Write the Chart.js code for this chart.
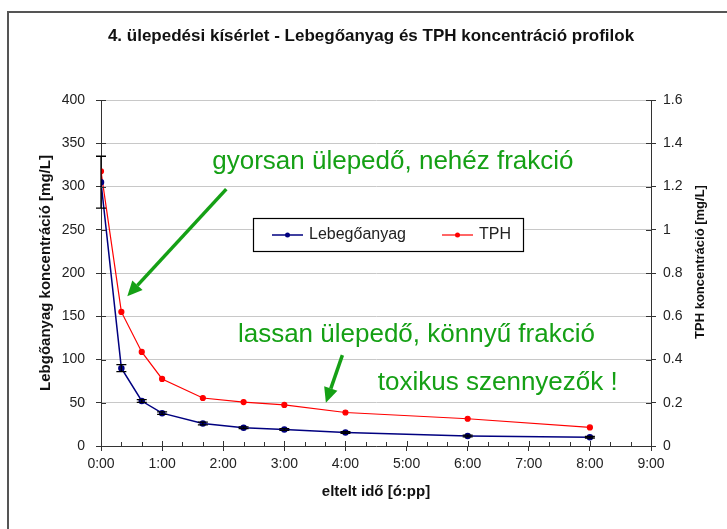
<!DOCTYPE html>
<html lang="hu">
<head>
<meta charset="utf-8">
<title>4. ülepedési kísérlet</title>
<script src="https://cdn.jsdelivr.net/npm/chart.js@4.4.1/dist/chart.umd.min.js"></script>
<style>
  html, body { margin: 0; padding: 0; background: #fff; }
  #grafikon { display: block; }
</style>
</head>
<body>
<canvas id="grafikon" width="727" height="529"></canvas>
<script>
// mintavételi időpontok [ó:pp]
var idopontok = ["0:00", "0:20", "0:40", "1:00", "1:40", "2:20", "3:00", "4:00", "6:00", "8:00"];
// lebegőanyag koncentráció [mg/L] és a mérések szórása
var lebegoanyag = [305, 90, 52, 38, 26, 21, 19, 15.5, 11.5, 10];
var lebegoanyagHiba = [30, 4, 1.5, 1.5, 1.5, 1, 1, 1, 1, 1];
// TPH koncentráció [mg/L]
var tph = [1.27, 0.62, 0.435, 0.31, 0.222, 0.203, 0.19, 0.155, 0.126, 0.086];

var xFeliratok = ["0:00", "1:00", "2:00", "3:00", "4:00", "5:00", "6:00", "7:00", "8:00", "9:00"];
var jobbFeliratok = ["0", "0.2", "0.4", "0.6", "0.8", "1", "1.2", "1.4", "1.6"];

var cim = "4. ülepedési kísérlet - Lebegőanyag és TPH koncentráció profilok";

// zöld megjegyzések (x: óra, y: bal tengely mg/L)
var megjegyzesek = [
  { szoveg: "gyorsan ülepedő, nehéz frakció", x: 1.82, y: 328 },
  { szoveg: "lassan ülepedő, könnyű frakció", x: 2.24, y: 128 },
  { szoveg: "toxikus szennyezők !", x: 4.53, y: 73 }
];
var nyilak = [
  { x1: 2.05, y1: 297, x2: 0.43, y2: 173 },
  { x1: 3.95, y1: 105, x2: 3.68, y2: 50 }
];

function oraba(s) {
  var r = s.split(":");
  return Number(r[0]) + Number(r[1]) / 60;
}

var betu = "'Liberation Sans', Arial, sans-serif";
var zold = "#15a015";

var diszites = {
  id: "diszites",
  beforeDraw: function (chart) {
    var ctx = chart.ctx;
    ctx.save();
    ctx.fillStyle = "#fff";
    ctx.fillRect(0, 0, chart.width, chart.height);
    ctx.strokeStyle = "#555";
    ctx.lineWidth = 2;
    ctx.strokeRect(8, 12, 760, 600);
    ctx.restore();
  },
  afterDatasetsDraw: function (chart) {
    // hibasávok a lebegőanyag pontjain
    var ctx = chart.ctx;
    var meta = chart.getDatasetMeta(0);
    var y = chart.scales.y;
    ctx.save();
    ctx.strokeStyle = "#000";
    ctx.lineWidth = 1.3;
    meta.data.forEach(function (pont, i) {
      var fent = y.getPixelForValue(lebegoanyag[i] + lebegoanyagHiba[i]);
      var lent = y.getPixelForValue(lebegoanyag[i] - lebegoanyagHiba[i]);
      ctx.beginPath();
      ctx.moveTo(pont.x, fent);
      ctx.lineTo(pont.x, lent);
      ctx.moveTo(pont.x - 5, fent);
      ctx.lineTo(pont.x + 5, fent);
      ctx.moveTo(pont.x - 5, lent);
      ctx.lineTo(pont.x + 5, lent);
      ctx.stroke();
    });
    ctx.restore();
  },
  afterDraw: function (chart) {
    var ctx = chart.ctx;
    var xs = chart.scales.x, ys = chart.scales.y, y2 = chart.scales.y2;
    var ter = chart.chartArea;
    ctx.save();

    // belső osztásjelek
    ctx.strokeStyle = "#333";
    ctx.lineWidth = 1;
    ctx.beginPath();
    ys.ticks.forEach(function (t) {
      var p = Math.round(ys.getPixelForValue(t.value)) + 0.5;
      ctx.moveTo(ter.left, p); ctx.lineTo(ter.left + 5, p);
    });
    y2.ticks.forEach(function (t) {
      var p = Math.round(y2.getPixelForValue(t.value)) + 0.5;
      ctx.moveTo(ter.right - 5, p); ctx.lineTo(ter.right, p);
    });
    for (var k = 0; k <= 27; k++) {
      var px = Math.round(xs.getPixelForValue(k / 3)) + 0.5;
      ctx.moveTo(px, ter.bottom); ctx.lineTo(px, ter.bottom - (k % 3 == 0 ? 5 : 4));
    }
    ctx.stroke();

    // cím
    ctx.fillStyle = "#111";
    ctx.font = "bold 17px " + betu;
    ctx.textAlign = "center";
    ctx.textBaseline = "middle";
    ctx.fillText(cim, 371, 36);

    // jobb tengely címe
    ctx.save();
    ctx.translate(700, 262);
    ctx.rotate(-Math.PI / 2);
    ctx.font = "bold 13px " + betu;
    ctx.fillText("TPH koncentráció [mg/L]", 0, 0);
    ctx.restore();

    // jelmagyarázat
    ctx.fillStyle = "#fff";
    ctx.fillRect(253, 218, 270, 33);
    ctx.strokeStyle = "#000";
    ctx.lineWidth = 1.2;
    ctx.strokeRect(253.5, 218.5, 270, 33);
    var helyek = [272, 442];
    chart.data.datasets.forEach(function (ds, i) {
      var x0 = helyek[i], yk = 235;
      ctx.strokeStyle = ds.borderColor;
      ctx.lineWidth = ds.borderWidth;
      ctx.beginPath();
      ctx.moveTo(x0, yk); ctx.lineTo(x0 + 31, yk);
      ctx.stroke();
      ctx.fillStyle = ds.borderColor;
      ctx.beginPath();
      ctx.arc(x0 + 15.5, yk, 2.5, 0, 2 * Math.PI);
      ctx.fill();
      ctx.fillStyle = "#222";
      ctx.font = "16px " + betu;
      ctx.textAlign = "left";
      ctx.fillText(ds.label, x0 + 37, yk);
    });

    // megjegyzések
    ctx.fillStyle = zold;
    ctx.font = "26px " + betu;
    ctx.textAlign = "left";
    ctx.textBaseline = "middle";
    megjegyzesek.forEach(function (m) {
      ctx.fillText(m.szoveg, xs.getPixelForValue(m.x), ys.getPixelForValue(m.y));
    });
    ctx.strokeStyle = zold;
    nyilak.forEach(function (n) {
      var ax = xs.getPixelForValue(n.x1), ay = ys.getPixelForValue(n.y1);
      var bx = xs.getPixelForValue(n.x2), by = ys.getPixelForValue(n.y2);
      var szog = Math.atan2(by - ay, bx - ax);
      var hossz = 15, fel = 7;
      var cx = bx - hossz * Math.cos(szog), cy = by - hossz * Math.sin(szog);
      ctx.lineWidth = 3.5;
      ctx.beginPath();
      ctx.moveTo(ax, ay); ctx.lineTo(cx, cy);
      ctx.stroke();
      ctx.beginPath();
      ctx.moveTo(bx, by);
      ctx.lineTo(cx + fel * Math.sin(szog), cy - fel * Math.cos(szog));
      ctx.lineTo(cx - fel * Math.sin(szog), cy + fel * Math.cos(szog));
      ctx.closePath();
      ctx.fill();
    });
    ctx.restore();
  }
};

var configUlepedes = {
  type: "line",
  data: {
    datasets: [
      {
        label: "Lebegőanyag",
        data: idopontok.map(function (t, i) { return { x: oraba(t), y: lebegoanyag[i] }; }),
        yAxisID: "y",
        borderColor: "#000080",
        backgroundColor: "#000080",
        borderWidth: 1.5,
        pointRadius: 2.5,
        tension: 0
      },
      {
        label: "TPH",
        data: idopontok.map(function (t, i) { return { x: oraba(t), y: tph[i] }; }),
        yAxisID: "y2",
        borderColor: "#ff0000",
        backgroundColor: "#ff0000",
        borderWidth: 1.2,
        pointRadius: 2.5,
        tension: 0
      }
    ]
  },
  options: {
    responsive: false,
    animation: false,
    layout: { padding: { top: 100, left: 0, right: 0, bottom: 0 } },
    plugins: { legend: { display: false }, tooltip: { enabled: false } },
    scales: {
      x: {
        type: "linear",
        min: 0,
        max: 9,
        ticks: {
          stepSize: 1,
          autoSkip: false,
          maxRotation: 0,
          padding: 5,
          color: "#222",
          font: { family: betu, size: 14 },
          callback: function (v, i) { return xFeliratok[i]; }
        },
        grid: { drawOnChartArea: false, tickLength: 5, tickColor: "#333" },
        border: { color: "#333", width: 1 },
        title: {
          display: true,
          text: "eltelt idő [ó:pp]",
          color: "#111",
          font: { family: betu, size: 15, weight: "bold" },
          padding: { top: 0, bottom: 28 }
        },
        afterFit: function (s) { s.height = 83; }
      },
      y: {
        position: "left",
        min: 0,
        max: 400,
        ticks: {
          stepSize: 50,
          padding: 11,
          color: "#222",
          font: { family: betu, size: 14 }
        },
        grid: { color: "#c8c8c8", tickLength: 5, tickColor: "#333" },
        border: { color: "#333", width: 1 },
        title: {
          display: true,
          text: "Lebgőanyag koncentráció [mg/L]",
          color: "#111",
          font: { family: betu, size: 15, weight: "bold" },
          padding: { top: 37, bottom: 0 }
        },
        afterFit: function (s) { s.width = 101; }
      },
      y2: {
        position: "right",
        min: 0,
        max: 1.6,
        ticks: {
          stepSize: 0.2,
          padding: 7,
          color: "#222",
          font: { family: betu, size: 14 },
          callback: function (v, i) { return jobbFeliratok[i]; }
        },
        grid: { drawOnChartArea: false, tickLength: 5, tickColor: "#333" },
        border: { color: "#333", width: 1 },
        afterFit: function (s) { s.width = 76; }
      }
    }
  },
  plugins: [diszites]
};

var grafikon = new Chart(document.getElementById("grafikon"), configUlepedes);
</script>
</body>
</html>
